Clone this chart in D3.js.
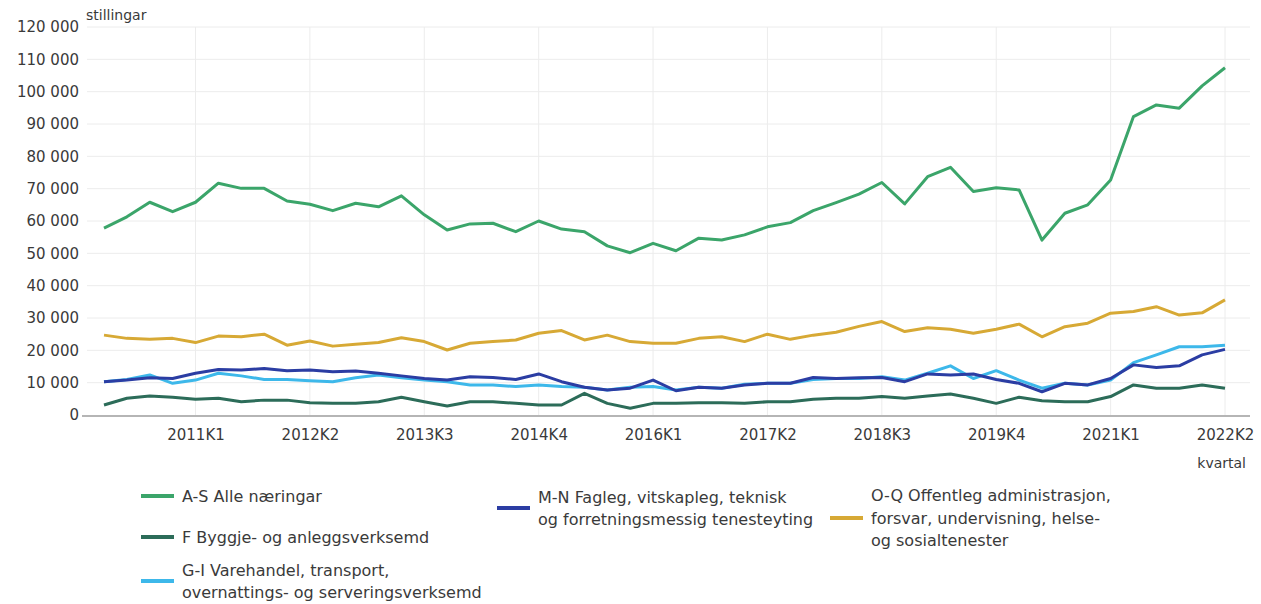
<!DOCTYPE html>
<html>
	<head>
		<script type="text/javascript" src="https://cdn.jsdelivr.net/npm/d3@7"></script>
		<style>
body {
	margin: 0;
	background-color: white;
}

text {
	font-family: "DejaVu Sans", sans-serif;
	fill: #3a3a3a;
}

line.grid {
	stroke: #ececec;
	stroke-width: 1;
}

path.serie {
	fill: none;
	stroke-width: 3;
	stroke-linejoin: round;
}
		</style>
	</head>
	<body>
		<script>

var quarters = [
	"2010K1", "2010K2", "2010K3", "2010K4",
	"2011K1", "2011K2", "2011K3", "2011K4",
	"2012K1", "2012K2", "2012K3", "2012K4",
	"2013K1", "2013K2", "2013K3", "2013K4",
	"2014K1", "2014K2", "2014K3", "2014K4",
	"2015K1", "2015K2", "2015K3", "2015K4",
	"2016K1", "2016K2", "2016K3", "2016K4",
	"2017K1", "2017K2", "2017K3", "2017K4",
	"2018K1", "2018K2", "2018K3", "2018K4",
	"2019K1", "2019K2", "2019K3", "2019K4",
	"2020K1", "2020K2", "2020K3", "2020K4",
	"2021K1", "2021K2", "2021K3", "2021K4",
	"2022K1", "2022K2"
];

var tickLabels = ["2011K1", "2012K2", "2013K3", "2014K4", "2016K1", "2017K2", "2018K3", "2019K4", "2021K1", "2022K2"];
var yTicks = [0, 10000, 20000, 30000, 40000, 50000, 60000, 70000, 80000, 90000, 100000, 110000, 120000];

// A-S Alle næringar
var alle = [57800, 61300, 65800, 62900, 65800, 71700, 70100, 70100, 66200, 65200,
	63200, 65500, 64400, 67800, 61900, 57200, 59100, 59300, 56700, 60000,
	57500, 56700, 52300, 50200, 53100, 50800, 54700, 54100, 55700, 58200,
	59500, 63200, 65700, 68300, 71900, 65300, 73700, 76600, 69100, 70300,
	69600, 54100, 62400, 65000, 72700, 92300, 95900, 94900, 101800, 107400];

// F Byggje- og anleggsverksemd
var bygg = [3100, 5200, 5900, 5500, 4900, 5200, 4100, 4600, 4600, 3800,
	3600, 3600, 4100, 5500, 4100, 2800, 4100, 4100, 3600, 3100,
	3100, 6700, 3600, 2100, 3600, 3600, 3800, 3800, 3600, 4100,
	4100, 4900, 5200, 5200, 5700, 5200, 5900, 6500, 5200, 3600,
	5500, 4400, 4100, 4100, 5700, 9300, 8300, 8300, 9300, 8300];

// G-I Varehandel, transport, overnattings- og serveringsverksemd
var handel = [10300, 11000, 12400, 9800, 10800, 12900, 12100, 11000, 11000, 10600,
	10300, 11500, 12400, 11500, 10800, 10300, 9300, 9300, 8800, 9300,
	8800, 8600, 7700, 8600, 8800, 7700, 8600, 8300, 9500, 9800,
	9800, 11000, 11300, 11300, 11800, 10800, 12900, 15200, 11300, 13700,
	10800, 8300, 9800, 9300, 10800, 16200, 18600, 21100, 21100, 21600];

// M-N Fagleg, vitskapleg, teknisk og forretningsmessig tenesteyting
var fagleg = [10300, 10800, 11500, 11300, 12900, 14100, 13900, 14400, 13700, 13900,
	13400, 13600, 12900, 12100, 11300, 10800, 11800, 11600, 11000, 12700,
	10300, 8600, 7700, 8300, 10800, 7500, 8600, 8300, 9300, 9800,
	9800, 11600, 11300, 11500, 11600, 10300, 12700, 12400, 12700, 11000,
	9800, 7200, 9800, 9300, 11300, 15500, 14700, 15200, 18600, 20300];

// O-Q Offentleg administrasjon, forsvar, undervisning, helse- og sosialtenester
var offentleg = [24700, 23700, 23400, 23700, 22400, 24400, 24200, 25000, 21600, 22900,
	21300, 21900, 22400, 23900, 22700, 20100, 22200, 22700, 23200, 25300,
	26100, 23200, 24700, 22700, 22200, 22200, 23700, 24200, 22700, 25000,
	23400, 24700, 25600, 27400, 28900, 25800, 27000, 26500, 25300, 26500,
	28100, 24200, 27300, 28400, 31500, 32000, 33500, 30900, 31600, 35600];

var seriesNames = [
	["A-S Alle næringar"],
	["F Byggje- og anleggsverksemd"],
	["G-I Varehandel, transport,", "overnattings- og serveringsverksemd"],
	["M-N Fagleg, vitskapleg, teknisk", "og forretningsmessig tenesteyting"],
	["O-Q Offentleg administrasjon,", "forsvar, undervisning, helse-", "og sosialtenester"]
];
var seriesValues = [alle, bygg, handel, fagleg, offentleg];
var seriesColors = ["#3ba56a", "#2c6c59", "#3db8ea", "#2b3da3", "#d7a935"];

var w = 1261;
var h = 604;

var plotLeft = 87, plotRight = 1250, plotTop = 27, plotBottom = 415;

var svg = d3.select("body").append("svg")
	.attr("width", w)
	.attr("height", h);

var x = d3.scalePoint().domain(quarters).range([104, 1225]);
var y = d3.scaleLinear().domain([0, 120000]).range([plotBottom, plotTop]);

// horizontal grid
svg.append("g").selectAll("line").data(yTicks.slice(1)).enter().append("line")
	.attr("class", "grid")
	.attr("x1", plotLeft).attr("x2", plotRight)
	.attr("y1", function(d) { return y(d); })
	.attr("y2", function(d) { return y(d); });

// vertical grid
svg.append("g").selectAll("line").data(tickLabels).enter().append("line")
	.attr("class", "grid")
	.attr("x1", function(d) { return x(d); })
	.attr("x2", function(d) { return x(d); })
	.attr("y1", plotTop).attr("y2", plotBottom);

// y axis labels
var yAxis = d3.axisLeft(y).tickValues(yTicks).tickSize(0).tickPadding(0)
	.tickFormat(function(d) { return d3.format(",")(d).replace(/,/g, " "); });
var gy = svg.append("g").attr("transform", "translate(79,0)").call(yAxis);
gy.select(".domain").remove();
gy.selectAll("text").style("font-size", "15px").attr("font-family", null);

// x axis
var xAxis = d3.axisBottom(x).tickValues(tickLabels).tickSize(0).tickPadding(14);
var gx = svg.append("g").attr("transform", "translate(0," + plotBottom + ")").call(xAxis);
gx.select(".domain").remove();
gx.selectAll("text").style("font-size", "15px").attr("font-family", null);

svg.append("line")
	.attr("x1", 82).attr("x2", plotRight)
	.attr("y1", plotBottom + 1).attr("y2", plotBottom + 1)
	.style("stroke", "#b5b5b5")
	.style("stroke-width", 2);

svg.append("text").attr("x", 86).attr("y", 20)
	.style("font-size", "14px").text("stillingar");
svg.append("text").attr("x", 1246).attr("y", 468)
	.style("font-size", "14px").style("text-anchor", "end").text("kvartal");

// lines
var line = d3.line()
	.x(function(d, i) { return x(quarters[i]); })
	.y(function(d) { return y(d); });

var drawOrder = [0, 4, 2, 3, 1];
svg.append("g").selectAll("path").data(drawOrder).enter().append("path")
	.attr("class", "serie")
	.attr("d", function(k) { return line(seriesValues[k]); })
	.style("stroke", function(k) { return seriesColors[k]; });

// legend
var legendPos = [
	{ x: 141, y: 496 },
	{ x: 141, y: 537 },
	{ x: 141, y: 581 },
	{ x: 497, y: 508 },
	{ x: 830, y: 518 }
];

var legend = svg.append("g").selectAll("g").data(seriesNames).enter().append("g")
	.attr("transform", function(d, i) { return "translate(" + legendPos[i].x + "," + legendPos[i].y + ")"; });

legend.append("line")
	.attr("x1", 0).attr("x2", 33)
	.attr("y1", 0).attr("y2", 0)
	.style("stroke", function(d, i) { return seriesColors[i]; })
	.style("stroke-width", 4);

legend.append("text")
	.attr("x", 41)
	.attr("y", function(d) { return 6 - (d.length - 1) * 11.5; })
	.style("font-size", "16px")
	.selectAll("tspan").data(function(d) { return d; }).enter().append("tspan")
	.attr("x", 41)
	.attr("dy", function(d, j) { return j == 0 ? 0 : 22.5; })
	.text(function(d) { return d; });

		</script>
	</body>
</html>
